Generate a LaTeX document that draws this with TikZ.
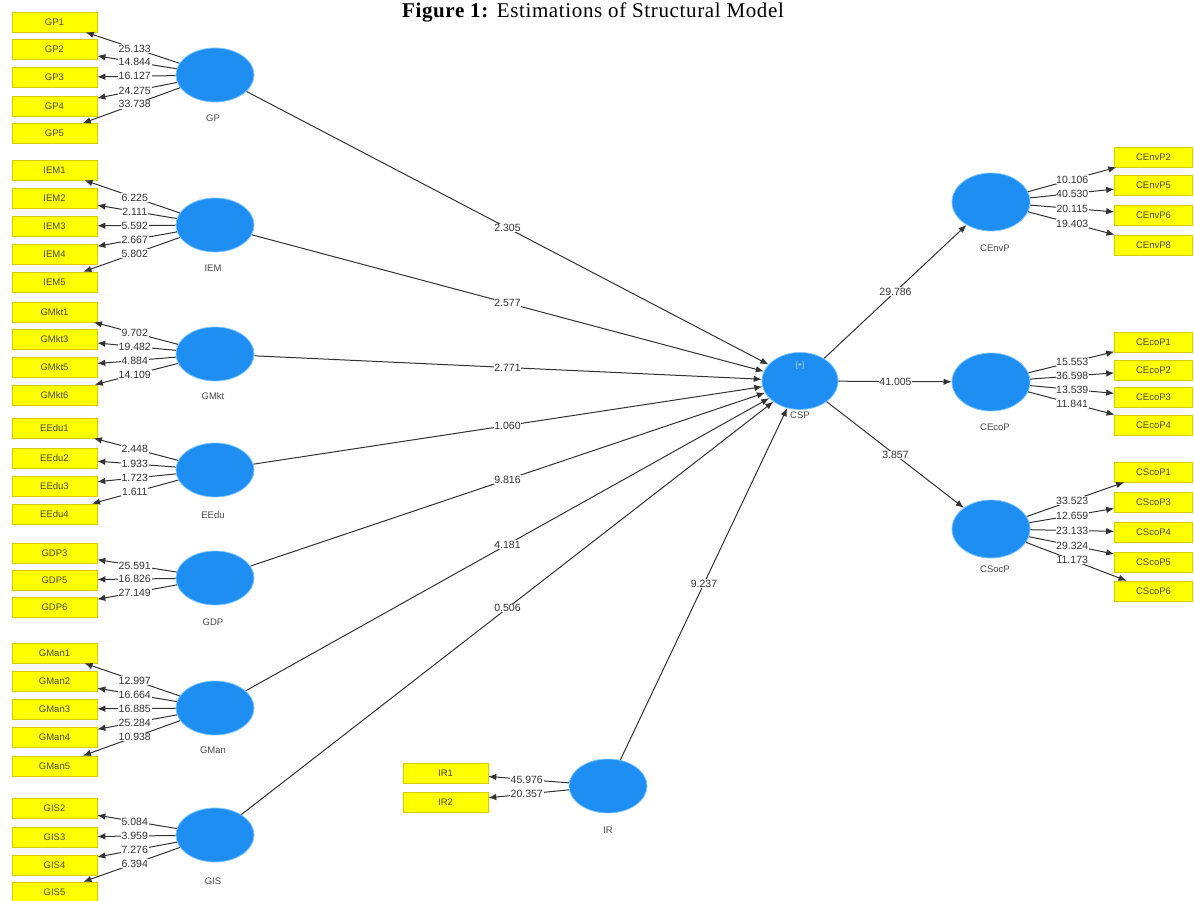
\documentclass[tikz,border=0pt]{standalone}
\usepackage{fontspec}
\setmainfont{Liberation Serif}
\setsansfont{Liberation Sans}
\usetikzlibrary{shapes.geometric,arrows.meta,calc}
\definecolor{lvblue}{HTML}{1E8EF2}
\definecolor{lvedge}{HTML}{7CC6FF}
\definecolor{indyellow}{HTML}{FFFF00}
\definecolor{indedge}{HTML}{D6CC00}
\definecolor{txtgray}{HTML}{4A4A4A}
\definecolor{numgray}{HTML}{333333}
\definecolor{linegray}{HTML}{333333}
\begin{document}
\begin{tikzpicture}[x=1pt,y=-1pt,
  lv/.style={ellipse, fill=lvblue, draw=lvedge, line width=0.8pt, minimum width=78pt, minimum height=54pt, inner sep=0pt},
  ind/.style={rectangle, fill=indyellow, draw=indedge, line width=0.6pt, minimum width=85pt, minimum height=20pt, inner sep=0pt, font=\sffamily\fontsize{9.5}{10}\selectfont, text=txtgray},
  rind/.style={ind, minimum width=78pt},
  lvname/.style={font=\sffamily\fontsize{9.5}{10}\selectfont, text=txtgray},
  lbl/.style={fill=white, inner sep=0.7pt, font=\sffamily\fontsize{10.5}{11}\selectfont, text=numgray},
  arr/.style={draw=linegray, line width=1pt, -{Latex[length=8pt,width=6.5pt]}},
]
\useasboundingbox (0,0) rectangle (1194,901);
\node[font=\fontsize{21}{23}\selectfont\addfontfeature{LetterSpace=3}] (title) at (593,12) {\textbf{Figure 1:} Estimations of Structural Model};

% latent variables
\node[lv] (GP) at (215,75) {};
\node[lv] (IEM) at (215,225) {};
\node[lv] (GMkt) at (215,354) {};
\node[lv] (EEdu) at (215,470) {};
\node[lv] (GDP) at (215,578) {};
\node[lv] (GMan) at (215,708) {};
\node[lv] (GIS) at (215,835) {};
\node[lv, minimum width=76pt, minimum height=57pt] (CSP) at (800,381) {};
\node[font=\sffamily\fontsize{7.5}{8}\selectfont, text=white!80!lvblue] (plus) at (800,366) {[+]};
\node[lv, minimum height=58pt] (CEnvP) at (991,202) {};
\node[lv, minimum height=58pt] (CEcoP) at (991,382) {};
\node[lv, minimum height=58pt] (CSocP) at (991,529) {};
\node[lv] (IR) at (608,786) {};

% latent variable names
\node[lvname] (nGP) at (213,118) {GP};
\node[lvname] (nIEM) at (213,268) {IEM};
\node[lvname] (nGMkt) at (213,396) {GMkt};
\node[lvname] (nEEdu) at (213,515) {EEdu};
\node[lvname] (nGDP) at (213,622) {GDP};
\node[lvname] (nGMan) at (213,750) {GMan};
\node[lvname] (nGIS) at (213,881) {GIS};
\node[lvname] (nCSP) at (800,415) {CSP};
\node[lvname] (nCEnvP) at (995,248) {CEnvP};
\node[lvname] (nCEcoP) at (995,427) {CEcoP};
\node[lvname] (nCSocP) at (995,569) {CSocP};
\node[lvname] (nIR) at (608,830) {IR};

% left indicators
\foreach \n/\y in {GP1/22,GP2/49,GP3/77.5,GP4/106.5,GP5/133.5,
  IEM1/170,IEM2/198,IEM3/226,IEM4/254,IEM5/282,
  GMkt1/312,GMkt3/339,GMkt5/367,GMkt6/395,
  EEdu1/428,EEdu2/458,EEdu3/486,EEdu4/514,
  GDP3/553,GDP5/580,GDP6/607,
  GMan1/653,GMan2/681,GMan3/709,GMan4/737,GMan5/766,
  GIS2/808,GIS3/837,GIS4/865,GIS5/892}
  {\node[ind] (\n) at (54.5,\y) {\n};}
% right indicators
\foreach \n/\y in {CEnvP2/157,CEnvP5/185,CEnvP6/215,CEnvP8/245,
  CEcoP1/342,CEcoP2/370,CEcoP3/397,CEcoP4/425,
  CScoP1/472,CScoP3/502,CScoP4/532,CScoP5/562,CScoP6/591}
  {\node[rind] (\n) at (1153.5,\y) {\n};}
\node[ind] (IR1) at (445.5,773) {IR1};
\node[ind] (IR2) at (445.5,802) {IR2};

% loading connectors
\foreach \a/\b in {GP/GP1,GP/GP2,GP/GP3,GP/GP4,GP/GP5,
  IEM/IEM1,IEM/IEM2,IEM/IEM3,IEM/IEM4,IEM/IEM5,
  GMkt/GMkt1,GMkt/GMkt3,GMkt/GMkt5,GMkt/GMkt6,
  EEdu/EEdu1,EEdu/EEdu2,EEdu/EEdu3,EEdu/EEdu4,
  GDP/GDP3,GDP/GDP5,GDP/GDP6,
  GMan/GMan1,GMan/GMan2,GMan/GMan3,GMan/GMan4,GMan/GMan5,
  GIS/GIS2,GIS/GIS3,GIS/GIS4,GIS/GIS5,
  IR/IR1,IR/IR2,
  CEnvP/CEnvP2,CEnvP/CEnvP5,CEnvP/CEnvP6,CEnvP/CEnvP8,
  CEcoP/CEcoP1,CEcoP/CEcoP2,CEcoP/CEcoP3,CEcoP/CEcoP4,
  CSocP/CScoP1,CSocP/CScoP3,CSocP/CScoP4,CSocP/CScoP5,CSocP/CScoP6}
  {\draw[arr] (\a) -- (\b);}

% structural paths
\foreach \a/\b in {GP/CSP,IEM/CSP,GMkt/CSP,EEdu/CSP,GDP/CSP,GMan/CSP,GIS/CSP,IR/CSP,
  CSP/CEnvP,CSP/CEcoP,CSP/CSocP}
  {\draw[arr] (\a) -- (\b);}

% labels
\foreach \a/\b/\v in {GP/GP1/25.133,GP/GP2/14.844,GP/GP3/16.127,GP/GP4/24.275,GP/GP5/33.738,
  IEM/IEM1/6.225,IEM/IEM2/2.111,IEM/IEM3/5.592,IEM/IEM4/2.667,IEM/IEM5/5.802,
  GMkt/GMkt1/9.702,GMkt/GMkt3/19.482,GMkt/GMkt5/4.884,GMkt/GMkt6/14.109,
  EEdu/EEdu1/2.448,EEdu/EEdu2/1.933,EEdu/EEdu3/1.723,EEdu/EEdu4/1.611,
  GDP/GDP3/25.591,GDP/GDP5/16.826,GDP/GDP6/27.149,
  GMan/GMan1/12.997,GMan/GMan2/16.664,GMan/GMan3/16.885,GMan/GMan4/25.284,GMan/GMan5/10.938,
  GIS/GIS2/5.084,GIS/GIS3/3.959,GIS/GIS4/7.276,GIS/GIS5/6.394,
  IR/IR1/45.976,IR/IR2/20.357,
  CEnvP/CEnvP2/10.106,CEnvP/CEnvP5/40.530,CEnvP/CEnvP6/20.115,CEnvP/CEnvP8/19.403,
  CEcoP/CEcoP1/15.553,CEcoP/CEcoP2/36.598,CEcoP/CEcoP3/13.539,CEcoP/CEcoP4/11.841,
  CSocP/CScoP1/33.523,CSocP/CScoP3/12.659,CSocP/CScoP4/23.133,CSocP/CScoP5/29.324,CSocP/CScoP6/11.173,
  GP/CSP/2.305,IEM/CSP/2.577,GMkt/CSP/2.771,EEdu/CSP/1.060,GDP/CSP/9.816,GMan/CSP/4.181,GIS/CSP/0.506,IR/CSP/9.237,
  CSP/CEnvP/29.786,CSP/CEcoP/41.005,CSP/CSocP/3.857}
  {\node[lbl] at ($(\a.center)!0.5!(\b.center)$) {\v};}
\end{tikzpicture}
\end{document}
